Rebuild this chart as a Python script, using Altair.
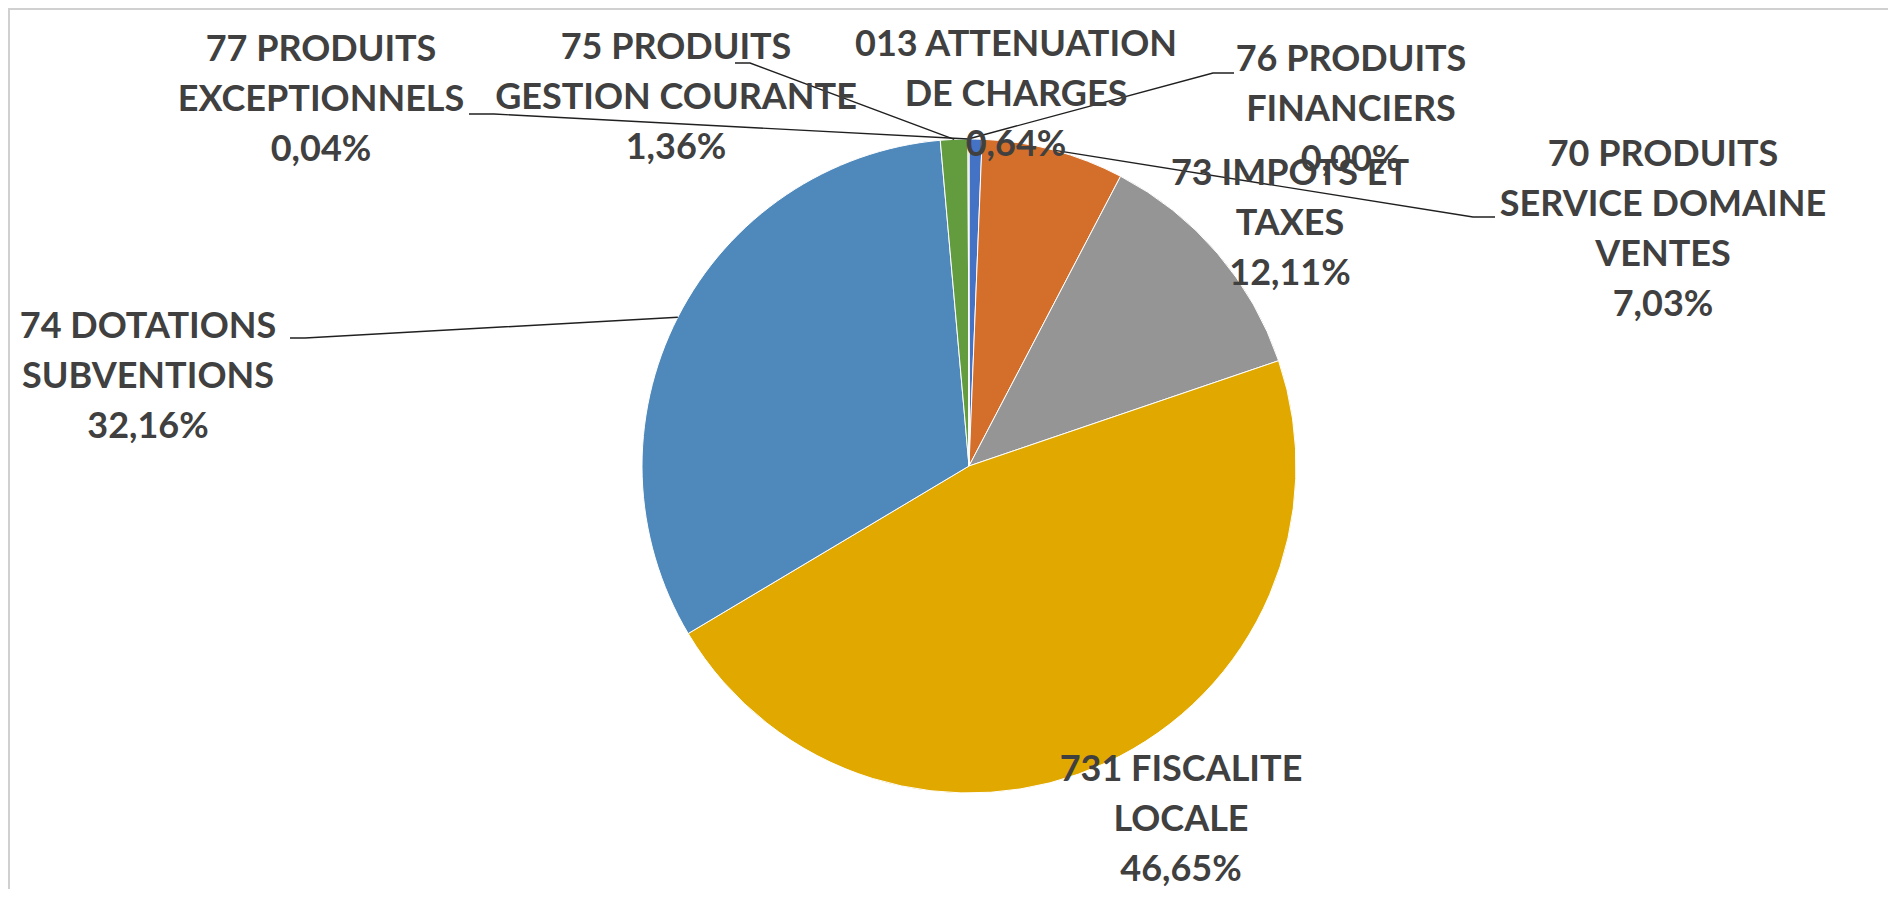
import altair as alt
import pandas as pd
import numpy as np

# ---------------- data ----------------
categories = [
    "013 ATTENUATION DE CHARGES",
    "70 PRODUITS SERVICE DOMAINE VENTES",
    "73 IMPOTS ET TAXES",
    "731 FISCALITE LOCALE",
    "74 DOTATIONS SUBVENTIONS",
    "75 PRODUITS GESTION COURANTE",
    "76 PRODUITS FINANCIERS",
    "77 PRODUITS EXCEPTIONNELS",
]
shares = [0.64, 7.03, 12.11, 46.65, 32.16, 1.36, 0.00, 0.04]
label_lines = [
    ["013 ATTENUATION", "DE CHARGES"],
    ["70 PRODUITS", "SERVICE DOMAINE", "VENTES"],
    ["73 IMPOTS ET", "TAXES"],
    ["731 FISCALITE", "LOCALE"],
    ["74 DOTATIONS", "SUBVENTIONS"],
    ["75 PRODUITS", "GESTION COURANTE"],
    ["76 PRODUITS", "FINANCIERS"],
    ["77 PRODUITS", "EXCEPTIONNELS"],
]
colors = ["#4472C4", "#D36E2B", "#959595", "#E1A900",
          "#4F89BC", "#629C3E", "#264478", "#9E480E"]

# ---------------- layout (pixels) ----------------
W, H = 1880, 881          # whole chart
CX, CY = 961, 458         # pie centre inside the chart
R = 327                   # pie radius
FONT = "Lato"
LH = 50                   # line height
# label block centres as offsets from the pie centre (dx, dy downward)
label_offsets = [
    (47, -371), (694, -236), (321, -242), (212, 354),
    (-821, -89), (-293, -368), (382, -356), (-648, -366),
]
# leader lines: category index -> (outer stub end, elbow)
leaders = {
    1: ((526, -249), (504, -249)),
    4: ((-679, -128), (-664, -128)),
    5: ((-234, -403), (-219, -403)),
    6: ((265, -393), (244, -393)),
    7: ((-500, -352), (-475, -352)),
}

# ---------------- tables ----------------
df = pd.DataFrame({"idx": range(len(categories)), "category": categories, "share": shares})

def pct(v):
    return f"{v:.2f}".replace(".", ",") + "%"

texts = [l + [pct(v)] for l, v in zip(label_lines, shares)]
lab = pd.DataFrame({
    "category": categories,
    "text": ["\n".join(t) for t in texts],
    "px": [o[0] for o in label_offsets],
    # first line position = block centre moved up by half the block
    "py": [o[1] - (len(t) - 1) * LH / 2 for o, t in zip(label_offsets, texts)],
})

total = sum(shares)
cum = np.cumsum([0] + shares[:-1])
mid = [(c + s / 2) / total * 2 * np.pi for c, s in zip(cum, shares)]
rows = []
for i, (outer, elbow) in leaders.items():
    sx, sy = R * np.sin(mid[i]), -R * np.cos(mid[i])
    for seq, (x, y) in enumerate([outer, elbow, (sx, sy)]):
        rows.append({"category": categories[i], "seq": seq, "px": x, "py": y})
lines = pd.DataFrame(rows)

xs = alt.Scale(domain=[-CX, W - CX], range=[0, W], nice=False, zero=False)
ys = alt.Scale(domain=[-CY, H - CY], range=[0, H], nice=False, zero=False)

pie = alt.Chart(df).mark_arc(outerRadius=R, stroke="white", strokeWidth=1).encode(
    theta=alt.Theta("share:Q", stack=True),
    order=alt.Order("idx:Q"),
    color=alt.Color("category:N", scale=alt.Scale(domain=categories, range=colors), legend=None),
    x=alt.XDatum(0, type="quantitative", scale=xs, axis=None),
    y=alt.YDatum(0, type="quantitative", scale=ys, axis=None),
)

leader = alt.Chart(lines).mark_line(color="#202020", strokeWidth=1.4).encode(
    x=alt.X("px:Q", scale=xs, axis=None),
    y=alt.Y("py:Q", scale=ys, axis=None),
    detail="category:N",
    order="seq:Q",
)

text = alt.Chart(lab).mark_text(
    align="center", baseline="middle", lineBreak="\n", lineHeight=LH,
    font=FONT, fontSize=36, fontWeight="bold", color="#404040",
).encode(
    x=alt.X("px:Q", scale=xs, axis=None),
    y=alt.Y("py:Q", scale=ys, axis=None),
    text="text:N",
)

one = pd.DataFrame({"a": [0]})
top_rule = alt.Chart(one).mark_rule(color="#D0D0D0", strokeWidth=2).encode(
    x=alt.value(0), x2=alt.value(W), y=alt.value(1))
left_rule = alt.Chart(one).mark_rule(color="#D0D0D0", strokeWidth=2).encode(
    x=alt.value(1), y=alt.value(0), y2=alt.value(H))

chart = alt.layer(pie, leader, text, top_rule, left_rule).properties(
    width=W, height=H, padding=0, autosize=alt.AutoSizeParams(type="none"),
    background="white",
).configure_view(stroke=None)

chart.save("out.html", embed_options={"renderer": "svg", "actions": False})
